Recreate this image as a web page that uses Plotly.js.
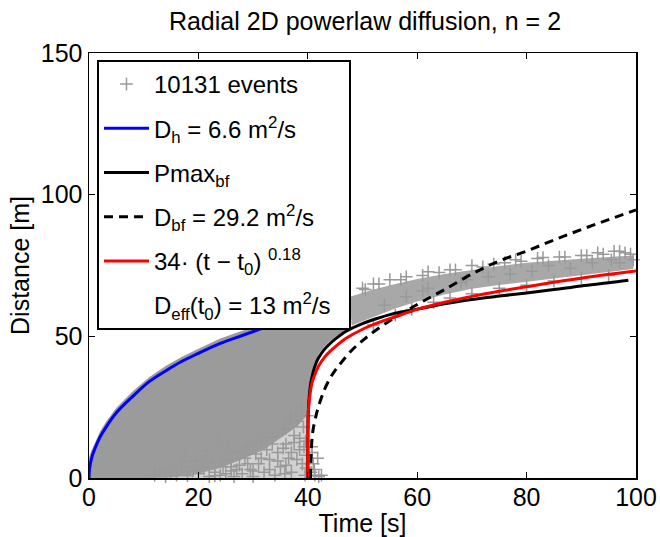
<!DOCTYPE html>
<html><head><meta charset="utf-8">
<script src="https://cdn.plot.ly/plotly-3.0.1.min.js"></script>
<style>html,body{margin:0;padding:0;background:#fff}#chart{width:660px;height:537px}</style>
</head><body><div id="chart"></div>
<script>
// ---- data ----
// dense part of the event cloud (outline)
const denseT = [-0.3,-0.3,0.3,1,2,3,5,8,11,14,17,20,24,28,32,36,40,44,47.7,47.7,47,46,45,44,43,42,41.2,40.6,40.1,39.8,38,35,32,28,24,20,16,12];
const denseR = [0,5,9,12,16.3,19.5,24.8,30.6,35.6,39.5,42.8,45.6,49.2,52,54.7,57.2,59.5,61.5,63,53.2,52.3,51.2,49.8,48.2,46.2,43.8,39.8,34.5,28,22,18,14,10,6.5,3.5,1.5,0.3,0];
// thinner part of the event cloud (outline)
const sparseT = [12,16,20,24,28,32,35,38,39.8,40,40];
const sparseR = [0,0.3,1.5,3.5,6.5,10,14,18,22,22,0];
// band of late events (outline)
const bandT = [47.7,52,56,60,65,70,75,80,85,90,95,99.5,99.5,95,90,85,80,75,70,65,60,56,52,48];
const bandR = [64,66.5,68.5,70.2,72,73.5,74.8,76,76.8,77.4,78,78.5,73.8,72.8,71.6,70.5,69.3,68.1,66.8,64.8,62.3,59.8,56.8,53.8];
// individual sparse events
const eventT = [12,13,14,15,16,17,18,19,20,21,22,22.5,23,24,24.5,25,26,26.5,27,27.5,28,28.5,29,29.5,30,30.5,31,31.5,32,32.5,33,33.5,34,34.5,35,35.5,36,36.5,37,37.5,38,38.5,39,39.2,39.5,39.6,39.8,39.9,39.7,38.8,37.8,36.8,35.8,19.5,17.5,21.5,25.5,23.5,40.6,41,41.3,40.8,42,41.2,42.5,41.8,40.7,
  30,33,36,37,34.5,31.5,27,25,23,38.5,39.3,36,38,29,35.5,26,33.5,37.5,
  50,52,55,58,62,66,70,74,78,82,86,90,93,96,98,99.5,52,56,59,63,66,70,75,80,85,90,95,61,68,77,88,97,
  50.5,53,57,61,64,67,72,76,79,83,87,91,94,97,99,54,58,62,69,73,81,84,92,95.5];
const eventR = [1,3,0.5,2,1,4,0.8,2.5,1.5,3.5,0.5,5.5,2,1,4,6.5,2.5,0.5,9,4.5,1.5,7,11,3,0.5,8.5,5,13,2,10,6.5,14.5,1,9,4,17,12,7,2,15,20,10,5,18,1,13,8,22,3.5,25,23,21,1.5,6,7.5,9.5,11.5,13,2,5,1,9,0.5,3,1,7,11,
  2.5,3,4.5,9,6,7,3,1.5,0.8,14,11,17.5,6.5,5,10.5,4,12,12.5,
  67,68.5,70,71,72.8,73.5,75,75.5,77,77.5,78,78.5,79.5,80,79.5,77,54,57.5,59.5,62,63.5,65,67,68,69.5,70.5,71.5,66,69,72,74,76,
  66.5,68.5,70,71.5,72.5,73.5,74.5,76,76.5,77.8,78,78.5,79,80,79,61,64,67,70,71,73,75,76,77];
// D_h curve
const blueT = [0,0.1,0.5,1,2,3,5,8,11,14,17,20,24,28,32,36,40];
const blueR = [0,3.2,7.2,10,14.4,17.6,23,28.8,34,37.8,41.2,44,47.5,50.3,53,55.5,58];
// Pmax_bf curve
const pmaxT = [40,40.05,40.2,40.5,41,41.5,42,43,44,45,47,50,53,56,60,65,70,75,80,85,90,95,98.6];
const pmaxR = [0,20,27,33,37.5,40.5,42.5,45.3,47.3,49,51.8,54.5,56.5,58.2,59.6,61.5,63,64.2,65.3,66.5,67.8,68.9,69.8];
// D_bf curve (dashed)
const dbfT = [40.5,40.6,40.8,41,41.5,42,43,44,45,46,48,50,52,55,58,61,65,70,75,80,85,90,95,100];
const dbfR = [0,8,14.5,17.5,22,25.5,31,35,38,40.5,45,48.5,51.5,55.5,59,62.3,66.5,72,76.6,80.1,84,87.7,91.2,94.6];
// 34·(t − t0)^0.18 curve
const fitT = [40,40.001,40.01,40.05,40.1,40.2,40.4,40.7,41,41.5,42,43,44,45,47,50,53,56,60,65,70,75,80,85,90,95,100];
const fitR = [0,10,15.5,21,23.5,26,29.5,33,35,37.5,39.6,42.5,44.6,46.3,49.3,52.5,54.9,56.9,59.5,62,64.1,65.9,67.5,69.1,70.5,71.9,73.1];
const xTicks = [0,20,40,60,80,100];
const yTicks = [0,50,100,150];
const names = ['10131 events','D<sub>h</sub> = 6.6 m<sup>2</sup>/s','Pmax<sub>bf</sub>','D<sub>bf</sub> = 29.2 m<sup>2</sup>/s','34· (t − t<sub>0</sub>) <sup>0.18</sup>','D<sub>eff</sub>(t<sub>0</sub>) = 13 m<sup>2</sup>/s\u00a0\u00a0'];

const FONT = 'Liberation Sans, Arial, Helvetica, sans-serif';
const grey = '#999999';
const traces = [
  {x: sparseT, y: sparseR, type:'scatter', mode:'lines', fill:'toself', fillcolor:'#d2d2d2', line:{width:0}, showlegend:false, hoverinfo:'skip'},
  {x: denseT, y: denseR, type:'scatter', mode:'lines', fill:'toself', fillcolor:'#9b9b9b', line:{width:0}, showlegend:false, hoverinfo:'skip'},
  {x: bandT, y: bandR, type:'scatter', mode:'lines', fill:'toself', fillcolor:'#a8a8a8', line:{width:0}, showlegend:false, hoverinfo:'skip'},
  {x: eventT, y: eventR, type:'scatter', mode:'markers', name:names[0], legendgroup:'a', cliponaxis:false,
   marker:{symbol:'cross-thin-open', size:9, color:grey, line:{color:grey, width:1.5}}},
  {x: blueT, y: blueR, type:'scatter', mode:'lines', name:names[1], legendgroup:'b', line:{color:'#0000ff', width:3, shape:'spline'}},
  {x: pmaxT, y: pmaxR, type:'scatter', mode:'lines', name:names[2], legendgroup:'c', line:{color:'#000000', width:3, shape:'spline'}},
  {x: dbfT, y: dbfR, type:'scatter', mode:'lines', name:names[3], legendgroup:'d', line:{color:'#000000', width:3, dash:'9px,6px', shape:'spline'}},
  {x: fitT, y: fitR, type:'scatter', mode:'lines', name:names[4], legendgroup:'e', line:{color:'#ff0000', width:3, shape:'spline'}},
  {x: [null], y: [null], type:'scatter', mode:'lines', name:names[5], legendgroup:'f', line:{color:'rgba(0,0,0,0)', width:0}}
];
const axisCommon = {
  showgrid:false, zeroline:false, showline:true, linecolor:'#000', linewidth:1.5, mirror:'allticks',
  ticks:'inside', ticklen:6, tickwidth:1.2, tickcolor:'#000',
  tickfont:{family:FONT, size:25, color:'#000'}
};
const layout = {
  width:660, height:537,
  paper_bgcolor:'#fff', plot_bgcolor:'#fff',
  margin:{l:89, r:24, t:53, b:59},
  font:{family:FONT, color:'#000'},
  title:{text:'Radial 2D powerlaw diffusion, n = 2', font:{family:FONT, size:25, color:'#000'}, x:0.553, xref:'container', xanchor:'center', y:0.96, yref:'container', yanchor:'middle'},
  xaxis:Object.assign({}, axisCommon, {range:[0,100], tickvals:xTicks, ticktext:xTicks.map(String), ticklabelstandoff:-4, title:{text:'Time [s]', font:{family:FONT, size:25, color:'#000'}, standoff:0}}),
  yaxis:Object.assign({}, axisCommon, {range:[0,150], tickvals:yTicks, ticktext:yTicks.map(String), title:{text:'Distance [m]', font:{family:FONT, size:25, color:'#000'}, standoff:4}}),
  showlegend:true,
  legend:{x:0.0146, y:0.9835, xanchor:'left', yanchor:'top', bgcolor:'#fff', bordercolor:'#000', borderwidth:2,
    font:{family:FONT, size:24, color:'#000'}, tracegroupgap:10, itemwidth:45, traceorder:'grouped'}
};
Plotly.newPlot('chart', traces, layout, {displayModeBar:false, staticPlot:true});
</script>
</body></html>
